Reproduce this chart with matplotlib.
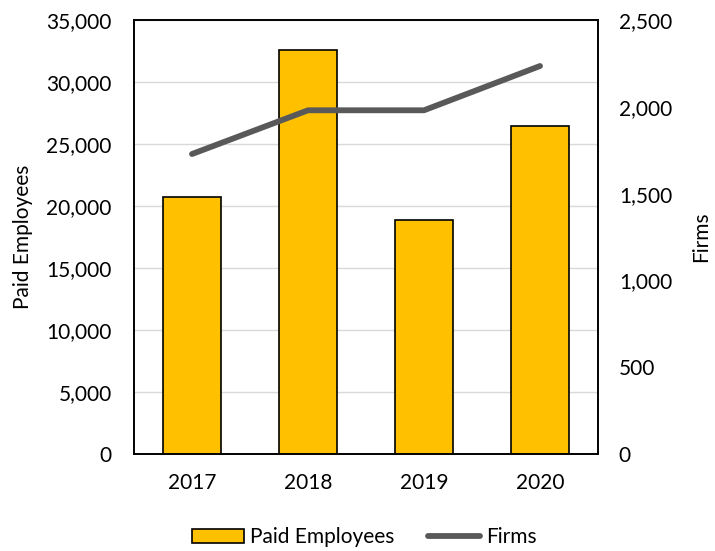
import matplotlib
matplotlib.use("Agg")
import matplotlib.pyplot as plt
from matplotlib.ticker import FuncFormatter, MultipleLocator

years = ["2017", "2018", "2019", "2020"]
paid_employees = [20730, 32580, 18870, 26450]
firms = [1728, 1980, 1980, 2235]

plt.rcParams['font.family'] = ['Lato', 'DejaVu Sans']
fs = 15

fig = plt.figure(figsize=(7.15, 5.51), dpi=100)
ax = fig.add_axes([0.1874, 0.176, 0.649, 0.7877])
x = range(len(years))
bars = ax.bar(x, paid_employees, width=0.5, color='#FFC000', edgecolor='black',
              linewidth=1.2, zorder=3, label='Paid Employees')
ax.set_ylim(0, 35000)
ax.set_xlim(-0.5, 3.5)
ax.yaxis.set_major_locator(MultipleLocator(5000))
ax.yaxis.set_major_formatter(FuncFormatter(lambda v, p: f"{int(v):,}"))
ax.grid(axis='y', color='#D9D9D9', linewidth=1.0, zorder=0)
ax.set_axisbelow(True)
ax.set_xticks(list(x))
ax.set_xticklabels(years)
ax.tick_params(axis='both', length=0, labelsize=fs, colors='black')
ax.tick_params(axis='x', pad=14)
ax.tick_params(axis='y', pad=16)
ax.set_ylabel('Paid Employees', fontsize=fs, labelpad=10)
for s in ax.spines.values():
    s.set_color('black')
    s.set_linewidth(1.2)

ax2 = ax.twinx()
line, = ax2.plot(list(x), firms, color='#595959', linewidth=4.2, solid_capstyle='round',
                 zorder=4, label='Firms')
ax2.set_ylim(0, 2500)
ax2.yaxis.set_major_locator(MultipleLocator(500))
ax2.yaxis.set_major_formatter(FuncFormatter(lambda v, p: f"{int(v):,}"))
ax2.tick_params(axis='y', length=0, labelsize=fs, pad=15)
ax2.set_ylabel('Firms', fontsize=fs, labelpad=14)
for s in ax2.spines.values():
    s.set_color('black')
    s.set_linewidth(1.2)

fig.legend(handles=[bars, line], labels=['Paid Employees', 'Firms'], loc='center',
           bbox_to_anchor=(0.51, 0.025), ncol=2, frameon=False, fontsize=fs,
           handlelength=2.5, handletextpad=0.3, columnspacing=1.6)

fig.savefig('out.png', dpi=100)
